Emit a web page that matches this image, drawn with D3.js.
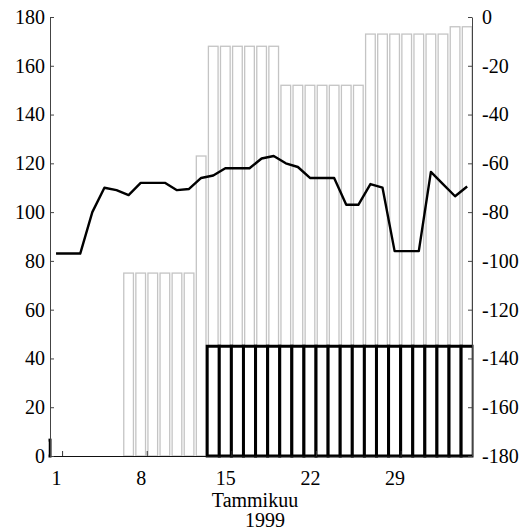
<!DOCTYPE html>
<html>
<head>
<meta charset="utf-8">
<script src="https://cdn.jsdelivr.net/npm/d3@7"></script>
<style>
    html, body { margin: 0; padding: 0; background: #fff; }
    svg { display: block; }
</style>
</head>
<body>
<svg id="chart" width="522" height="532"></svg>
<script>
// 日期（1999 年 1 月）
const days = [1, 2, 3, 4, 5, 6, 7, 8, 9, 10, 11, 12, 13, 14, 15, 16, 17, 18,
    19, 20, 21, 22, 23, 24, 25, 26, 27, 28, 29, 30, 31, 32, 33, 34, 35];

// 灰色柱（左轴）
const grayValues = [null, null, null, null, null, null, 75, 75, 75, 75, 75, 75, 123,
    168, 168, 168, 168, 168, 168, 152, 152, 152, 152, 152, 152, 152,
    173, 173, 173, 173, 173, 173, 173, 176, 176];

// 黑色柱（左轴）
const blackDays = [0, 14, 15, 16, 17, 18, 19, 20, 21, 22, 23, 24, 25, 26, 27, 28,
    29, 30, 31, 32, 33, 34, 35];
const blackValues = [6.5, 45, 45, 45, 45, 45, 45, 45, 45, 45, 45, 45, 45, 45, 45, 45,
    45, 45, 45, 45, 45, 45, 45];

// 折线（右轴）
const lineValues = [-97, -97, -97, -80, -70, -71, -73, -68, -68, -68, -71, -70.5, -66,
    -65, -62, -62, -62, -58, -57, -60, -61.5, -66, -66, -66, -77, -77, -68.5, -70,
    -96, -96, -96, -63.5, -68.5, -73.5, -69.5];

// 刻度
const xTickDays = [1, 8, 15, 22, 29];
const leftTicks = [0, 20, 40, 60, 80, 100, 120, 140, 160, 180];
const rightTicks = [0, -20, -40, -60, -80, -100, -120, -140, -160, -180];
const xLabelLines = ["Tammikuu", "1999"];

const FONT = "'Liberation Serif', 'Times New Roman', serif";

class barLineChart {

    constructor(svg) {
        this.svg = d3.select(svg);
        this.padding = {top: 17, right: 50, bottom: 76, left: 50};
        this.width = 522 - this.padding.left - this.padding.right;
        this.height = 532 - this.padding.top - this.padding.bottom;
    }

    create() {
        this.g = this.svg.append("g")
            .attr("transform", `translate(${this.padding.left},${this.padding.top})`);
        this.x = d3.scaleLinear().domain([0.5, 35.4]).range([0, this.width]);
        this.yLeft = d3.scaleLinear().domain([0, 180]).range([this.height, 0]);
        this.yRight = d3.scaleLinear().domain([-180, 0]).range([this.height, 0]);
        this.step = this.x(1) - this.x(0);

        this.g.append("clipPath").attr("id", "plot-clip")
            .append("rect").attr("x", -1.5).attr("y", -2)
            .attr("width", this.width + 3).attr("height", this.height + 4);

        this._drawGrayBars();
        this._drawBlackBars();
        this._drawLine();
        this._drawAxes();
        this._drawXLabel();
    }

    // 灰色柱
    _drawGrayBars() {
        const w = this.step * 0.8;
        const data = days.map((d, i) => ({day: d, value: grayValues[i]})).filter(d => d.value != null);
        this.g.append("g").selectAll("rect").data(data).join("rect")
            .attr("x", d => this.x(d.day) - w / 2)
            .attr("y", d => this.yLeft(d.value))
            .attr("width", w)
            .attr("height", d => this.yLeft(0) - this.yLeft(d.value))
            .attr("fill", "#fff")
            .attr("stroke", "#c4c4c4")
            .attr("stroke-width", 1.3);
    }

    // 黑色柱
    _drawBlackBars() {
        const w = this.step;
        const data = blackDays.map((d, i) => ({day: d, value: blackValues[i]}));
        this.g.append("g").attr("clip-path", "url(#plot-clip)")
            .selectAll("rect").data(data).join("rect")
            .attr("x", d => this.x(d.day) - w / 2)
            .attr("y", d => this.yLeft(d.value))
            .attr("width", w)
            .attr("height", d => this.yLeft(0) - this.yLeft(d.value))
            .attr("fill", "#fff")
            .attr("stroke", "#000")
            .attr("stroke-width", 3);
    }

    // 折线
    _drawLine() {
        const line = d3.line()
            .x((d, i) => this.x(days[i]))
            .y(d => this.yRight(d));
        this.g.append("path").datum(lineValues)
            .attr("d", line)
            .attr("fill", "none")
            .attr("stroke", "#000")
            .attr("stroke-width", 2.4)
            .attr("stroke-linejoin", "round");
    }

    // 坐标轴
    _drawAxes() {
        const fs = "20px";
        const styleText = sel => sel.selectAll("text")
            .attr("font-family", FONT).attr("font-size", fs).attr("fill", "#000");

        // x 轴文字
        const xAxis = this.g.append("g")
            .attr("transform", `translate(0,${this.height})`)
            .call(d3.axisBottom(this.x).tickValues(xTickDays).tickFormat(d3.format("d"))
                .tickSize(0).tickPadding(15));
        xAxis.select(".domain").remove();
        styleText(xAxis);

        // x 轴刻度线（向内）
        const xTicks = this.g.append("g")
            .attr("transform", `translate(0,${this.height})`)
            .call(d3.axisBottom(this.x).tickValues(xTickDays.map(d => d + 0.5)).tickFormat("")
                .tickSizeInner(-5).tickSizeOuter(0));
        xTicks.select(".domain").attr("stroke", "#111");
        xTicks.selectAll(".tick line").attr("stroke", "#333");

        // 左 y 轴
        const left = this.g.append("g")
            .call(d3.axisLeft(this.yLeft).tickValues(leftTicks)
                .tickSizeInner(-4).tickSizeOuter(0).tickPadding(5));
        left.select(".domain").attr("stroke", "#444");
        left.selectAll(".tick line").attr("stroke", "#444");
        styleText(left);

        // 右 y 轴
        const right = this.g.append("g")
            .attr("transform", `translate(${this.width},0)`)
            .call(d3.axisRight(this.yRight).tickValues(rightTicks).tickFormat(d => d === 0 ? "0" : "-" + Math.abs(d))
                .tickSizeInner(-4).tickSizeOuter(0).tickPadding(10));
        right.select(".domain").attr("stroke", "#444");
        right.selectAll(".tick line").attr("stroke", "#444");
        styleText(right);
    }

    // x 轴标题
    _drawXLabel() {
        this.svg.append("text").text(xLabelLines[0])
            .attr("x", 255).attr("y", 507)
            .attr("text-anchor", "middle")
            .attr("font-family", FONT).attr("font-size", "20px");
        this.svg.append("text").text(xLabelLines[1])
            .attr("x", 265).attr("y", 527)
            .attr("text-anchor", "middle")
            .attr("font-family", FONT).attr("font-size", "20px");
    }
}

new barLineChart(document.getElementById("chart")).create();
</script>
</body>
</html>
